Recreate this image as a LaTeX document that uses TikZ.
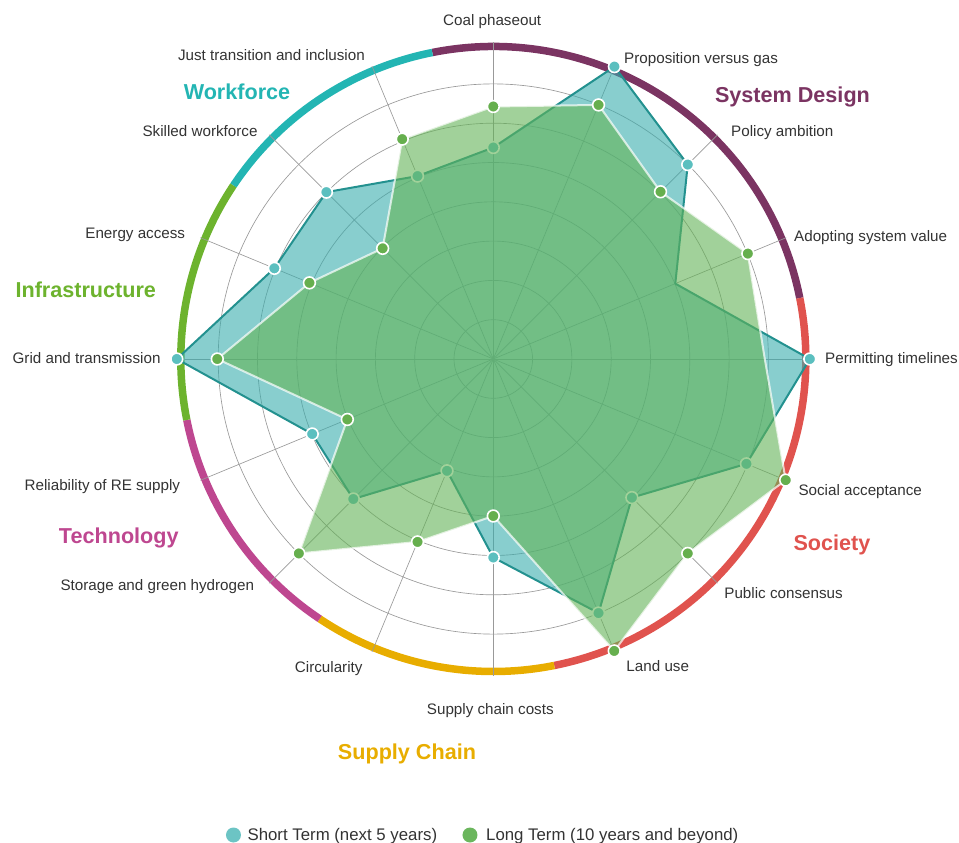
\documentclass[tikz,border=0pt]{standalone}
\usepackage{fontspec}
\setmainfont{Liberation Sans}
\definecolor{txt}{HTML}{333333}
\definecolor{gridc}{HTML}{999999}
\definecolor{cDesign}{HTML}{7B3462}
\definecolor{cSociety}{HTML}{E0534E}
\definecolor{cSupply}{HTML}{E8AD00}
\definecolor{cTech}{HTML}{BE4790}
\definecolor{cInfra}{HTML}{6DB32E}
\definecolor{cWork}{HTML}{23B5B3}
\definecolor{stfillc}{HTML}{39ADAD}
\definecolor{stlinec}{HTML}{23918F}
\definecolor{stmarkc}{HTML}{5BBFBF}
\definecolor{ltfillc}{HTML}{63B356}
\definecolor{ltmarkc}{HTML}{66AF4E}
\definecolor{legteal}{HTML}{6CC4C4}
\definecolor{leggreen}{HTML}{6BB65D}
\tikzset{
  gridline/.style={draw=gridc, line width=0.65pt},
  ringseg/.style={line width=7.5pt},
  stpoly/.style={fill=stfillc, fill opacity=0.6, draw=stlinec, line width=2pt, line join=round},
  ltpoly/.style={fill=ltfillc, fill opacity=0.6, draw=white, draw opacity=0.7, line width=2pt, line join=round},
  stmark/.style={circle, fill=stmarkc, draw=white, line width=1.6pt, minimum size=11.8pt, inner sep=0pt},
  ltmark/.style={circle, fill=ltmarkc, draw=white, line width=1.6pt, minimum size=11.8pt, inner sep=0pt},
  axlab/.style={font=\fontsize{15.2}{18}\selectfont, text=txt, inner sep=0pt},
  catlab/.style={font=\fontsize{21.6}{26}\selectfont\bfseries, inner sep=0pt},
  leglab/.style={font=\fontsize{16.8}{20}\selectfont, text=txt, inner sep=0pt, anchor=base west},
  legdot/.style={circle, minimum size=15pt, inner sep=0pt},
}
\begin{document}
\begin{tikzpicture}[x=1pt,y=1pt]
\useasboundingbox (-493.3,-484) rectangle (465.7,359);
% outer category ring
\foreach \a/\b/\c in {101.25/11.25/cDesign, 11.25/-78.75/cSociety, -78.75/-123.75/cSupply, -123.75/-168.75/cTech, 191.25/146.25/cInfra, 146.25/101.25/cWork}
  \draw[ringseg, \c] (\a:312.5) arc[start angle=\a, end angle=\b, radius=312.5];
% grid
\foreach \k in {1,...,7}
  \draw[gridline] (0,0) circle[radius=39.3*\k];
\foreach \i in {0,...,15}
  \draw[gridline] (0,0) -- ({90-22.5*\i}:317);
% data coordinates
\foreach \r [count=\i from 0] in {211.5,316.5,275,197,316.5,274,196,275,198.5,121,198,196,316.5,237,236,198}
  \coordinate (s\i) at ({90-22.5*\i}:\r);
\foreach \r [count=\i from 0] in {252.5,275,236.5,275.5,271.5,316.5,275,316,157,198,275,158,276,199,156.5,238}
  \coordinate (l\i) at ({90-22.5*\i}:\r);
% short term
\draw[stpoly] (s0) \foreach \i in {1,...,15}{ -- (s\i)} -- cycle;
\foreach \i in {0,1,2,4,5,6,7,8,9,10,11,12,13,14,15}
  \node[stmark] (ms\i) at (s\i) {};
% long term
\draw[ltpoly] (l0) \foreach \i in {1,...,15}{ -- (l\i)} -- cycle;
\foreach \i in {0,1,2,3,5,6,7,8,9,10,11,12,13,14,15}
  \node[ltmark] (ml\i) at (l\i) {};
% axis labels
\node[axlab, anchor=base] (a0) at (-1.1,333.6) {Coal phaseout};
\node[axlab, anchor=base west] (a1) at (130.7,295.3) {Proposition versus gas};
\node[axlab, anchor=base west] (a2) at (237.7,222.6) {Policy ambition};
\node[axlab, anchor=base west] (a3) at (300.7,117.9) {Adopting system value};
\node[axlab, anchor=base west] (a4) at (331.7,-4.7) {Permitting timelines};
\node[axlab, anchor=base west] (a5) at (305,-136.4) {Social acceptance};
\node[axlab, anchor=base west] (a6) at (230.9,-239.5) {Public consensus};
\node[axlab, anchor=base west] (a7) at (133,-312) {Land use};
\node[axlab, anchor=base] (a8) at (-3,-355.4) {Supply chain costs};
\node[axlab, anchor=base east] (a9) at (-130.6,-313) {Circularity};
\node[axlab, anchor=base east] (a10) at (-239,-231.4) {Storage and green hydrogen};
\node[axlab, anchor=base east] (a11) at (-313,-131.4) {Reliability of RE supply};
\node[axlab, anchor=base east] (a12) at (-332.6,-4.7) {Grid and transmission};
\node[axlab, anchor=base east] (a13) at (-308,120.9) {Energy access};
\node[axlab, anchor=base east] (a14) at (-235.6,222.9) {Skilled workforce};
\node[axlab, anchor=base east] (a15) at (-128.3,298.6) {Just transition and inclusion};
% category labels
\node[catlab, text=cDesign, anchor=base] (cat1) at (299.2,256.3) {System Design};
\node[catlab, text=cWork, anchor=base] (cat2) at (-256.3,259) {Workforce};
\node[catlab, text=cInfra, anchor=base] (cat3) at (-407.5,61.3) {Infrastructure};
\node[catlab, text=cTech, anchor=base] (cat4) at (-374.5,-184.7) {Technology};
\node[catlab, text=cSupply, anchor=base] (cat5) at (-86.3,-400.4) {Supply Chain};
\node[catlab, text=cSociety, anchor=base] (cat6) at (338.7,-191.4) {Society};
% legend
\node[legdot, fill=legteal] (lgd1) at (-259.8,-476) {};
\node[leglab] (lgt1) at (-245.9,-481.5) {Short Term (next 5 years)};
\node[legdot, fill=leggreen] (lgd2) at (-23.3,-476) {};
\node[leglab] (lgt2) at (-7.3,-481.5) {Long Term (10 years and beyond)};
\end{tikzpicture}
\end{document}
